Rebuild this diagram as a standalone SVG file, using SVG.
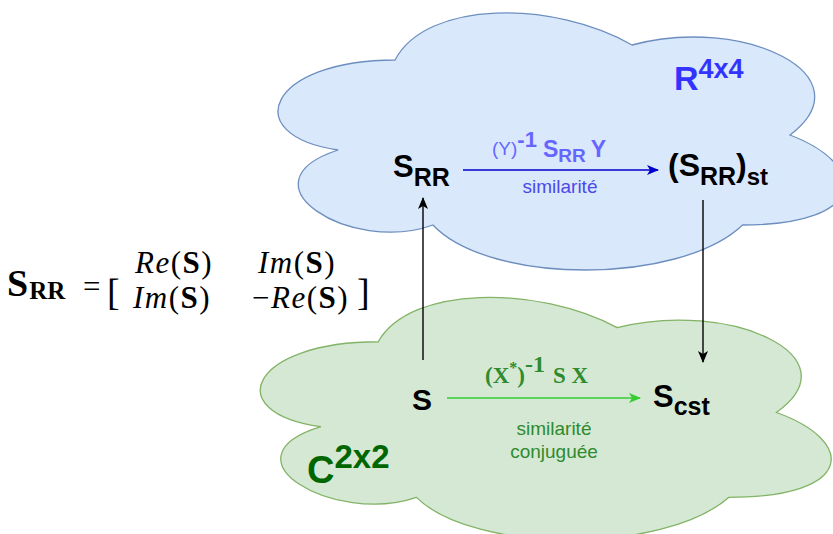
<svg xmlns="http://www.w3.org/2000/svg" width="833" height="534" viewBox="0 0 833 534">
<defs>
<style>
.sans{font-family:"Liberation Sans",Arial,Helvetica,sans-serif;}
.serif{font-family:"Liberation Serif","Times New Roman",serif;}
.b{font-weight:bold;}
.i{font-style:italic;}
.cloudR{fill:#dae8fc;stroke:#6c8ebf;stroke-width:1.3;}
.cloudC{fill:#d5e8d4;stroke:#82b366;stroke-width:1.3;}
.edge{fill:none;stroke-width:1.4;}
</style>
<marker id="ahBlack" viewBox="0 0 12 10" refX="11" refY="5" markerWidth="12" markerHeight="10" markerUnits="userSpaceOnUse" orient="auto"><path d="M0,0 L12,5 L0,10 L3,5 Z" fill="#000"/></marker>
<marker id="ahBlue" viewBox="0 0 12 10" refX="11" refY="5" markerWidth="12" markerHeight="10" markerUnits="userSpaceOnUse" orient="auto"><path d="M0,0 L12,5 L0,10 L3,5 Z" fill="#0000CC"/></marker>
<marker id="ahGreen" viewBox="0 0 12 10" refX="11" refY="5" markerWidth="12" markerHeight="10" markerUnits="userSpaceOnUse" orient="auto"><path d="M0,0 L12,5 L0,10 L3,5 Z" fill="#33CC33"/></marker>
</defs>
<rect width="833" height="534" fill="#ffffff"/>

<g id="cloud-R">
<path class="cloudR" d="M 395 60 C 268.6 60 237 135 338.1 150 C 237 183 350.8 255 432.9 225 C 489.8 285 679.4 285 742.6 225 C 869 225 869 165 790 135 C 869 75 742.6 15 632 45 C 553 0 426.6 0 395 60 Z"/>
<text class="sans b" x="674" y="90" font-size="34" fill="#3333FF">R<tspan font-size="27" y="78">4x4</tspan></text>
</g>

<g id="cloud-C">
<path class="cloudC" d="M 378.25 341.75 C 250.85 341.75 219 412.5 320.92 426.65 C 219 457.78 333.66 525.7 416.47 497.4 C 473.8 554 664.9 554 728.6 497.4 C 856 497.4 856 440.8 776.4 412.5 C 856 355.9 728.6 299.3 617.1 327.6 C 537.5 285.15 410.1 285.15 378.25 341.75 Z"/>
<text class="sans b" x="307" y="483" font-size="38" fill="#006600">C<tspan font-size="33" y="468">2x2</tspan></text>
</g>

<g id="formula" class="serif" fill="#000">
<text x="7" y="296" font-size="38" class="b">S<tspan font-size="25" y="299" dx="1">RR</tspan></text>
<text x="83" y="297" font-size="31">=</text>
<text x="107" y="305" font-size="38">[</text>
<text x="357" y="305" font-size="38">]</text>
<text x="135" y="273" font-size="31" letter-spacing="1.5"><tspan class="i">Re</tspan>(<tspan class="b">S</tspan>)</text>
<text x="258" y="273" font-size="31" letter-spacing="1.5"><tspan class="i">Im</tspan>(<tspan class="b">S</tspan>)</text>
<text x="133" y="308" font-size="31" letter-spacing="1.5"><tspan class="i">Im</tspan>(<tspan class="b">S</tspan>)</text>
<text x="252" y="308" font-size="31" letter-spacing="1.5">−<tspan class="i">Re</tspan>(<tspan class="b">S</tspan>)</text>
</g>

<g id="node-SRR">
<text class="sans b" x="393" y="177" font-size="31" fill="#000">S<tspan font-size="25" y="186">RR</tspan></text>
</g>

<g id="node-SRRst">
<text class="sans b" x="668" y="176" font-size="32" fill="#000">(S<tspan font-size="25" y="185">RR</tspan><tspan font-size="32" y="176">)</tspan><tspan font-size="24" y="185">st</tspan></text>
</g>

<g id="node-S">
<text class="sans b" x="412" y="410" font-size="30" fill="#000">S</text>
</g>

<g id="node-Scst">
<text class="sans b" x="653" y="407" font-size="31" fill="#000">S<tspan font-size="25" y="415">cst</tspan></text>
</g>

<g id="connectors">
<line class="edge" x1="463" y1="170" x2="658" y2="170" stroke="#0000CC" marker-end="url(#ahBlue)"/>
<line class="edge" x1="447" y1="398" x2="640" y2="398" stroke="#33CC33" marker-end="url(#ahGreen)"/>
<line class="edge" x1="423" y1="360" x2="423" y2="198" stroke="#000" marker-end="url(#ahBlack)"/>
<line class="edge" x1="703" y1="200" x2="703" y2="362" stroke="#000" marker-end="url(#ahBlack)"/>
<text class="sans" x="492" y="155" fill="#6666FF"><tspan font-size="19">(Y)</tspan><tspan font-size="22" class="b" y="147">-1</tspan><tspan font-size="23" class="b" y="157" dx="6">S</tspan><tspan font-size="19" class="b" y="162">RR</tspan><tspan font-size="23" class="b" y="157" dx="5">Y</tspan></text>
<text class="sans" x="560" y="193" font-size="19" fill="#4A4AE8" text-anchor="middle">similarité</text>
<text class="serif b" x="485" y="383" fill="#2E8B2E" font-size="23">(X<tspan font-size="16" y="373">*</tspan><tspan y="383">)</tspan><tspan font-size="24" y="372">-1</tspan><tspan y="383" dx="8">S X</tspan></text>
<text class="sans" x="554" y="435" font-size="19" fill="#2E8B2E" text-anchor="middle">similarité</text>
<text class="sans" x="554" y="458" font-size="19" fill="#2E8B2E" text-anchor="middle">conjuguée</text>
</g>
</svg>
